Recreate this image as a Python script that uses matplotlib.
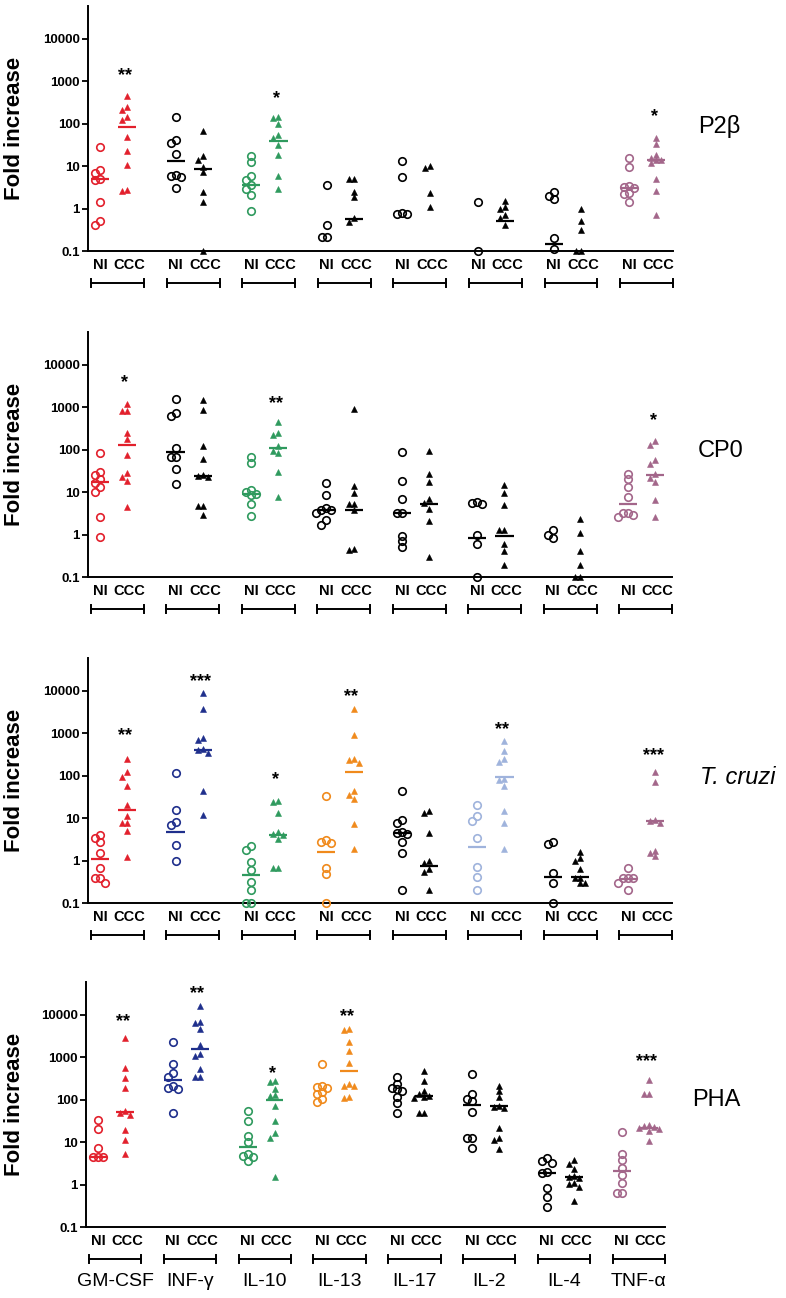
"""
Fold increase of cytokines in NI and CCC groups, four stimuli, log scale.
"""
import numpy as np
import matplotlib
matplotlib.use("Agg")
import matplotlib.pyplot as plt
from matplotlib.ticker import NullLocator
from matplotlib.transforms import offset_copy

plt.rcParams["font.family"] = ["Liberation Sans", "DejaVu Sans"]

cytokines = ["GM-CSF", "INF-\u03b3", "IL-10", "IL-13", "IL-17", "IL-2", "IL-4", "TNF-\u03b1"]
stimuli = ["P2\u03b2", "CP0", "T. cruzi", "PHA"]
ytick_values = [0.1, 1, 10, 100, 1000, 10000]
ytick_labels = ["0.1", "1", "10", "100", "1000", "10000"]

# ---- P2beta ----
p2b_ni = [
    [28, 8.3, 6.9, 5.0, 4.8, 1.4, 0.5, 0.4],
    [148, 42, 35, 19.5, 6.2, 5.9, 5.6, 3.1],
    [17.8, 12.5, 5.8, 4.6, 3.7, 2.9, 2.1, 0.9],
    [3.6, 0.41, 0.21, 0.21],
    [13.3, 5.6, 0.79, 0.75, 0.74],
    [1.45, 0.1],
    [2.4, 2.0, 1.66, 0.2, 0.11],
    [16, 9.5, 3.5, 3.2, 3.0, 2.3, 2.2, 1.4],
]
p2b_ccc = [
    [460, 250, 210, 142, 123, 48, 23, 10.7, 2.7, 2.6],
    [66, 17.8, 14, 9.6, 7.3, 2.5, 1.45, 0.1],
    [142, 137, 100, 53, 46, 31, 18, 5.8, 2.9],
    [5.1, 5.1, 2.5, 1.9, 0.59, 0.49],
    [10, 8.9, 2.3, 1.1],
    [1.55, 1.1, 1.0, 0.71, 0.59, 0.41],
    [1.0, 0.51, 0.31, 0.1, 0.1],
    [46, 33, 18, 16, 14, 13.7, 12, 4.9, 2.6, 0.7],
]
p2b_med_ni = [4.9, 13, 3.6, None, None, None, 0.15, 3.0]
p2b_med_ccc = [86, 8.7, 39, 0.57, None, 0.52, None, 13.7]
p2b_stars = ["**", "", "*", "", "", "", "", "*"]
p2b_star_y = [1840, None, 520, None, None, None, None, 200]

# ---- CP0 ----
cp0_ni = [
    [82, 30, 25, 21, 16.6, 13.5, 10.3, 2.6, 0.87],
    [1620, 740, 630, 112, 68, 68, 36, 16],
    [68, 49, 11.2, 10.3, 9, 8.5, 5.2, 2.7],
    [16.6, 8.5, 4.2, 3.9, 3.8, 3.3, 2.2, 1.7],
    [89, 18, 6.9, 3.2, 3.2, 0.92, 0.7, 0.5],
    [6.0, 5.6, 5.2, 0.98, 0.6, 0.1],
    [1.3, 1.0, 0.81],
    [27, 20, 13.4, 7.8, 3.3, 3.2, 2.9, 2.6],
]
cp0_ccc = [
    [1230, 830, 810, 250, 178, 75, 29, 23, 18, 4.4],
    [1520, 890, 123, 62, 25, 24, 23, 4.6, 4.6, 2.9],
    [455, 250, 220, 120, 95, 85, 30, 7.8],
    [940, 14, 9.7, 5.4, 5.4, 3.9, 0.47, 0.43],
    [93, 27, 17, 7.1, 5.6, 4.1, 2.1, 0.29],
    [14.7, 9.7, 5.0, 1.3, 1.3, 0.6, 0.4, 0.19],
    [2.3, 1.07, 0.4, 0.19, 0.1, 0.1],
    [162, 129, 57, 47, 27, 22, 17.6, 6.5, 2.6],
]
cp0_med_ni = [17.6, 87, 9.3, 3.8, 3.2, 0.81, None, 5.4]
cp0_med_ccc = [130, 24, 110, 3.8, 5.2, 0.94, None, 25]
cp0_stars = ["*", "", "**", "", "", "", "", "*"]
cp0_star_y = [5200, None, 1700, None, None, None, None, 650]

# ---- T. cruzi ----
tc_ni = [
    [4.1, 3.4, 2.8, 1.55, 0.66, 0.39, 0.39, 0.30],
    [115, 15.7, 8.3, 7.0, 2.35, 1.0],
    [2.2, 1.8, 0.91, 0.59, 0.31, 0.2, 0.1, 0.1],
    [33, 3.0, 2.8, 2.6, 0.66, 0.49, 0.1],
    [45, 9.2, 7.6, 4.7, 4.4, 4.2, 2.7, 1.5, 0.2],
    [20, 11, 8.4, 3.4, 0.69, 0.4, 0.2],
    [2.7, 2.5, 0.5, 0.3, 0.1],
    [0.67, 0.39, 0.39, 0.39, 0.3, 0.2],
]
tc_ccc = [
    [245, 120, 93, 59, 20.6, 11, 7.6, 7.6, 5.1, 1.2],
    [8800, 3700, 770, 680, 425, 410, 340, 43, 12.1],
    [25, 23.5, 13, 4.7, 4.2, 4.0, 3.2, 0.66, 0.66],
    [3700, 920, 250, 230, 200, 45, 36, 28, 7.2, 1.9],
    [15, 13, 4.5, 1.0, 0.9, 0.62, 0.55, 0.2],
    [660, 390, 250, 215, 85, 80, 59, 14.5, 7.9, 1.9],
    [1.6, 1.15, 1.0, 0.62, 0.39, 0.39, 0.3, 0.29],
    [125, 70, 8.9, 8.4, 7.6, 1.7, 1.5, 1.27],
]
tc_med_ni = [1.1, 4.8, 0.45, 1.6, 4.4, 2.1, 0.4, 0.37]
tc_med_ccc = [16, 410, 4.1, 120, 0.76, 93, 0.4, 8.8]
tc_stars = ["**", "***", "*", "**", "", "**", "", "***"]
tc_star_y = [1200, 22000, 112, 10000, None, 1700, None, 400]

# ---- PHA ----
pha_ni = [
    [33, 21, 7.4, 4.5, 4.5, 4.4],
    [2250, 690, 435, 350, 210, 190, 180, 49],
    [55, 31, 14, 10.3, 5.3, 4.8, 4.4, 3.6],
    [690, 207, 200, 190, 152, 139, 104, 91],
    [350, 230, 185, 175, 160, 118, 85, 49],
    [400, 134, 105, 95, 51, 12.6, 12.6, 7.3],
    [4.3, 3.6, 3.3, 2.0, 1.9, 0.82, 0.5, 0.3],
    [17, 5.3, 3.8, 2.5, 1.7, 1.07, 0.63, 0.63],
]
pha_ccc = [
    [2800, 575, 330, 190, 55, 48, 43, 19.5, 11.3, 5.3],
    [16700, 6700, 6500, 4650, 1950, 1180, 1080, 520, 350, 350],
    [275, 260, 180, 133, 122, 71, 31, 16.5, 12.6, 1.55],
    [4650, 4500, 2250, 1420, 720, 230, 215, 210, 115, 110],
    [475, 275, 160, 134, 125, 118, 112, 50, 50],
    [210, 160, 118, 72, 67, 65, 22, 12.5, 11, 7],
    [3.8, 3.0, 2.3, 1.6, 1.5, 1.4, 1.1, 1.05, 0.9, 0.4],
    [290, 140, 140, 25, 24, 23, 22, 20, 18, 10.5],
]
pha_med_ni = [4.5, 290, 7.9, None, None, 77, 1.9, 2.1]
pha_med_ccc = [51, 1620, 98, 480, 122, 70, 1.5, 22]
pha_stars = ["**", "**", "*", "**", "", "", "", "***"]
pha_star_y = [9300, 43000, 570, 12700, None, None, None, 1080]

RED, BLUE, GREEN = "#e2202c", "#1f2f8c", "#2f9a5e"
ORANGE, LIGHTBLUE, MAUVE, BLACK = "#f08a1c", "#9fb3dc", "#a3668a", "#000000"
panel_colors = [
    [RED, BLACK, GREEN, BLACK, BLACK, BLACK, BLACK, MAUVE],
    [RED, BLACK, GREEN, BLACK, BLACK, BLACK, BLACK, MAUVE],
    [RED, BLUE, GREEN, ORANGE, BLACK, LIGHTBLUE, BLACK, MAUVE],
    [RED, BLUE, GREEN, ORANGE, BLACK, BLACK, BLACK, MAUVE],
]

panels = [
    (p2b_ni, p2b_ccc, p2b_med_ni, p2b_med_ccc, p2b_stars, p2b_star_y),
    (cp0_ni, cp0_ccc, cp0_med_ni, cp0_med_ccc, cp0_stars, cp0_star_y),
    (tc_ni, tc_ccc, tc_med_ni, tc_med_ccc, tc_stars, tc_star_y),
    (pha_ni, pha_ccc, pha_med_ni, pha_med_ccc, pha_stars, pha_star_y),
]

W, H = 786, 1298
AX_H = 245
XLIM = (-0.39, 7.35)
# left px, right px, bottom px of each axes
boxes = [(88, 673, 251), (88, 672, 577), (88, 672, 903), (86, 665, 1227)]
label_pos = [(698, 127), (698, 451), (700, 778), (692, 1100)]
NI_DX, CCC_DX = -0.23, 0.13
STEP, MIN_DIST = 5.0, 5.0  # pixels


def swarm(values, px_per_unit):
    """Spread overlapping points sideways (pixel units), rows kept centred."""
    ys = np.log10(values) * AX_H / np.log10(6e4 / 0.1)
    offs = np.zeros(len(values))
    placed = []
    for i in np.argsort(-ys):
        for k in (0, -1, 1, -2, 2, -3, 3, -4, 4):
            x = k * STEP
            if all((x - px) ** 2 + (ys[i] - py) ** 2 >= MIN_DIST ** 2
                   for px, py in placed):
                break
        placed.append((x, ys[i]))
        offs[i] = x
    return offs / px_per_unit


fig = plt.figure(figsize=(W / 100, H / 100), dpi=100)

for k, (ni, ccc, med_ni, med_ccc, stars, star_y) in enumerate(panels):
    left, right, bottom = boxes[k]
    ax = fig.add_axes([left / W, 1 - bottom / H, (right - left) / W, AX_H / H])
    ppu = (right - left) / (XLIM[1] - XLIM[0])
    ax.set_yscale("log")
    ax.set_ylim(0.1, 6e4)
    ax.set_xlim(*XLIM)
    for side in ("top", "right"):
        ax.spines[side].set_visible(False)
    for side in ("left", "bottom"):
        ax.spines[side].set_linewidth(1.4)
    ax.set_yticks(ytick_values)
    ax.set_yticklabels(ytick_labels, fontweight="bold", fontsize=9.5)
    ax.yaxis.set_minor_locator(NullLocator())
    ax.tick_params(axis="y", length=4.3, width=1.3, pad=1.5)
    ax.set_xticks([])

    bracket = offset_copy(ax.get_xaxis_transform(), fig=fig, y=-32, units="dots")
    for i in range(len(cytokines)):
        c = panel_colors[k][i]
        v_ni = np.array(ni[i], dtype=float)
        v_ccc = np.array(ccc[i], dtype=float)
        ax.plot(i + NI_DX + swarm(v_ni, ppu), v_ni, "o", mfc="none", mec=c,
                mew=1.2, ms=5.4, clip_on=False, zorder=3)
        ax.plot(i + CCC_DX + swarm(v_ccc, ppu), v_ccc, "^", color=c,
                mew=0.4, ms=4.8, clip_on=False, zorder=3)
        if med_ni[i] is not None:
            ax.hlines(med_ni[i], i + NI_DX - 0.12, i + NI_DX + 0.12,
                      colors=c, lw=1.6, zorder=4)
        if med_ccc[i] is not None:
            ax.hlines(med_ccc[i], i + CCC_DX - 0.12, i + CCC_DX + 0.12,
                      colors=c, lw=1.6, zorder=4)
        if stars[i]:
            ax.annotate(stars[i], xy=(i + 0.1, star_y[i]), xytext=(0, -4),
                        textcoords="offset points", ha="center", va="center",
                        fontsize=13, fontweight="bold")
        for dx, txt in ((NI_DX, "NI"), (CCC_DX + 0.03, "CCC")):
            ax.annotate(txt, xy=(i + dx, 0), xycoords=ax.get_xaxis_transform(),
                        xytext=(0, -10.3), textcoords="offset points",
                        ha="center", va="center", fontsize=10.5,
                        fontweight="bold", annotation_clip=False)
        ax.plot([i - 0.35, i + 0.35], [0, 0], color="k", lw=1.4,
                transform=bracket, clip_on=False)
        for xe in (i - 0.35, i + 0.35):
            ax.plot([xe, xe], [-4 / AX_H, 4 / AX_H], color="k", lw=1.4,
                    transform=bracket, clip_on=False)
        if k == len(panels) - 1:
            ax.annotate(cytokines[i], xy=(i, 0), xycoords=ax.get_xaxis_transform(),
                        xytext=(0, -39.6), textcoords="offset points",
                        ha="center", va="center", fontsize=14,
                        annotation_clip=False)

    fig.text(15 / W, 1 - (bottom - AX_H / 2) / H, "Fold increase", rotation=90,
             ha="center", va="center", fontsize=16, fontweight="bold")
    lx, ly = label_pos[k]
    fig.text(lx / W, 1 - ly / H, stimuli[k], ha="left", va="center", fontsize=17,
             fontstyle="italic" if stimuli[k] == "T. cruzi" else "normal")

fig.savefig("out.png", dpi=100)
